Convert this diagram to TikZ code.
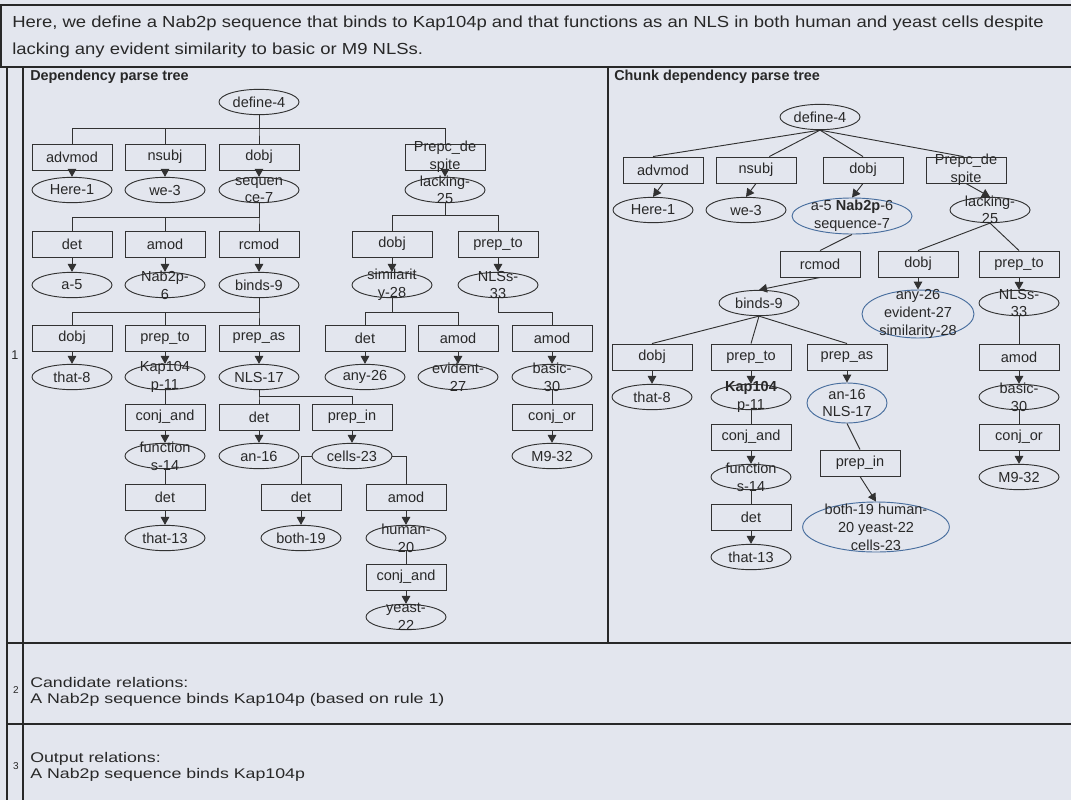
\documentclass[tikz,border=0pt]{standalone}
\usepackage{fontspec}
\setmainfont{Liberation Sans}
\newfontfamily\hdrfam[FakeStretch=1.155]{Liberation Sans}
\newfontfamily\rowfam[FakeStretch=1.27]{Liberation Sans}
\usetikzlibrary{arrows.meta,shapes.geometric}
\definecolor{bg}{RGB}{227,230,238}
\definecolor{ink}{RGB}{40,40,40}
\definecolor{lnk}{RGB}{50,50,50}
\definecolor{blu}{RGB}{72,110,158}
\newcommand\tfont{\fontsize{10.9}{13.2}\selectfont}
\newcommand\hfont{\hdrfam\fontsize{12}{14}\selectfont}
\newcommand\rfont{\rowfam\fontsize{10.5}{12}\selectfont}
\begin{document}
\begin{tikzpicture}[x=0.75pt,y=-0.75pt,
  ln/.style={draw=lnk, line width=0.7pt},
  arr/.style={ln, -{Triangle[length=6pt,width=6.5pt]}},
  bx/.style={draw=lnk, line width=0.7pt, rectangle, minimum width=60pt, minimum height=19.5pt, inner sep=0pt, font=\tfont, text=ink},
  el/.style={draw=lnk, line width=0.7pt, ellipse, minimum width=60pt, minimum height=19pt, inner sep=0pt, font=\tfont, text=ink},
  bel/.style={el, draw=blu},
  two/.style={align=center, font=\tfont, text=ink, inner sep=0pt},
  frame/.style={draw=ink, line width=1.1pt},
  ttl/.style={anchor=west, inner sep=0pt, font=\bfseries\fontsize{10.8}{13}\selectfont, text=ink},
  txt/.style={anchor=base west, inner sep=0pt, text=ink},
]
\fill[bg] (0,0) rectangle (1071,800);
\useasboundingbox (0,0) rectangle (1071,800);
% frame
\draw[frame] (0,5) -- (1071,5);
\draw[frame] (1,5) -- (1,67);
\draw[frame] (0,67) -- (1071,67);
\draw[frame] (7,67) -- (7,800);
\draw[frame] (23,67) -- (23,800);
\draw[frame] (608,67) -- (608,643);
\draw[frame] (7,643) -- (1071,643);
\draw[frame] (7,724) -- (1071,724);
% header
\node[txt, font=\hfont] (h1) at (12,27) {Here, we define a Nab2p sequence that binds to Kap104p and that functions as an NLS in both human and yeast cells despite};
\node[txt, font=\hfont] (h2) at (12,54) {lacking any evident similarity to basic or M9 NLSs.};
% row numbers
\node[inner sep=0pt, font=\fontsize{9.5}{10}\selectfont, text=ink] (n1) at (15,355) {1};
\node[inner sep=0pt, font=\fontsize{7.5}{8}\selectfont, text=ink] (n2) at (16,690) {2};
\node[inner sep=0pt, font=\fontsize{7.5}{8}\selectfont, text=ink] (n3) at (16,766) {3};
% rows 2 and 3
\node[txt, font=\rfont] (c1) at (30,687) {Candidate relations:};
\node[txt, font=\rfont] (c2) at (30,703) {A Nab2p sequence binds Kap104p (based on rule 1)};
\node[txt, font=\rfont] (o1) at (30,762) {Output relations:};
\node[txt, font=\rfont] (o2) at (30,778) {A Nab2p sequence binds Kap104p};
% titles
\node[ttl] (Ltitle) at (30,77) {Dependency parse tree};
\node[ttl] (Rtitle) at (614,77) {Chunk dependency parse tree};

%%%%%%%%%%%%%% LEFT TREE
\coordinate (Lb0) at (0,128);
\coordinate (Lb1) at (0,217);
\coordinate (Lb1b) at (0,215);
\coordinate (Lb2) at (0,312);
\coordinate (Lb3) at (0,396);
\node[el] (Ldef) at (259,102) {define-4};
\node[bx] (Ladv) at (72,157) {advmod};
\node[bx] (Lnsu) at (165,157) {nsubj};
\node[bx] (Ldob) at (259,157) {dobj};
\node[bx] (Lpre) at (445,157) {};
\node[two] (LpreT) at (Lpre) {Prepc\_de\\spite};
\node[el] (Lher) at (72,190) {Here-1};
\node[el] (Lwe) at (165,190) {we-3};
\node[el] (Lseq) at (259,190) {};
\node[two] (LseqT) at (Lseq) {sequen\\ce-7};
\node[el] (Llac) at (445,190) {};
\node[two] (LlacT) at (Llac) {lacking-\\25};
% level 2
\node[bx] (Ldet1) at (72,244) {det};
\node[bx] (Lamo1) at (165,244) {amod};
\node[bx] (Lrcm) at (259,244) {rcmod};
\node[bx] (Ldob2) at (392,244) {dobj};
\node[bx] (Lpto1) at (498,244) {prep\_to};
\node[el] (La5) at (72,285) {a-5};
\node[el] (Lnab) at (165,285) {};
\node[two] (LnabT) at (Lnab) {Nab2p-\\6};
\node[el] (Lbin) at (259,285) {binds-9};
\node[el] (Lsim) at (392,285) {};
\node[two] (LsimT) at (Lsim) {similarit\\y-28};
\node[el] (Lnls) at (498,285) {};
\node[two] (LnlsT) at (Lnls) {NLSs-\\33};
% level 3
\node[bx] (Ldob3) at (72,338) {dobj};
\node[bx] (Lpto2) at (165,338) {prep\_to};
\node[bx] (Lpas) at (259,338) {prep\_as};
\node[bx] (Ldet2) at (365,338) {det};
\node[bx] (Lamo2) at (458,338) {amod};
\node[bx] (Lamo3) at (552,338) {amod};
\node[el] (Lth8) at (72,377) {that-8};
\node[el] (Lkap) at (165,377) {};
\node[two] (LkapT) at (Lkap) {Kap104\\p-11};
\node[el] (Lns17) at (259,377) {NLS-17};
\node[el] (Lany) at (365,377) {any-26};
\node[el] (Levi) at (458,377) {};
\node[two] (LeviT) at (Levi) {evident-\\27};
\node[el] (Lbas) at (552,377) {};
\node[two] (LbasT) at (Lbas) {basic-\\30};
% level 4
\node[bx] (Lcj1) at (165,417) {conj\_and};
\node[bx] (Ldet3) at (259,417) {det};
\node[bx] (Lpin) at (352,417) {prep\_in};
\node[bx] (Lcor) at (552,417) {conj\_or};
\node[el] (Lfun) at (165,456) {};
\node[two] (LfunT) at (Lfun) {function\\s-14};
\node[el] (Lan) at (259,456) {an-16};
\node[el] (Lcel) at (352,456) {cells-23};
\node[el] (Lm9) at (552,456) {M9-32};
% level 5
\node[bx] (Ldet4) at (165,497) {det};
\node[bx] (Ldet5) at (301,497) {det};
\node[bx] (Lamo4) at (406,497) {amod};
\node[el] (Lth13) at (165,538) {that-13};
\node[el] (Lbot) at (301,538) {both-19};
\node[el] (Lhum) at (406,538) {};
\node[two] (LhumT) at (Lhum) {human-\\20};
\node[bx] (Lcj2) at (406,577) {conj\_and};
\node[el] (Lyea) at (406,617) {};
\node[two] (LyeaT) at (Lyea) {yeast-\\22};

% left connectors
\foreach \c in {Ladv,Lnsu,Ldob,Lpre}{\draw[ln] (Ldef.south) -- (Ldef.south |- Lb0) -| (\c.north);}
\foreach \c in {Ldet1,Lamo1,Lrcm}{\draw[ln] (Lseq.south) -- (Lseq.south |- Lb1) -| (\c.north);}
\foreach \c in {Ldob2,Lpto1}{\draw[ln] (Llac.south) -- (Llac.south |- Lb1b) -| (\c.north);}
\foreach \c in {Ldob3,Lpto2,Lpas}{\draw[ln] (Lbin.south) -- (Lbin.south |- Lb2) -| (\c.north);}
\foreach \c in {Ldet2,Lamo2}{\draw[ln] (Lsim.south) -- (Lsim.south |- Lb2) -| (\c.north);}
\draw[ln] (Lnls.south) -- (Lnls.south |- Lb2) -| (Lamo3.north);
\foreach \c in {Ldet3,Lpin}{\draw[ln] (Lns17.south) -- (Lns17.south |- Lb3) -| (\c.north);}
\draw[ln] (Lkap.south) -- (Lcj1.north);
\draw[ln] (Lbas.south) -- (Lcor.north);
\draw[ln] (Lfun.south) -- (Ldet4.north);
\draw[ln] (Lcel.west) -| (Ldet5.north);
\draw[ln] (Lcel.east) -| (Lamo4.north);
\draw[ln] (Lhum.south) -- (Lcj2.north);
\foreach \a/\b in {Ladv/Lher,Lnsu/Lwe,Ldob/Lseq,Lpre/Llac,Ldet1/La5,Lamo1/Lnab,Lrcm/Lbin,Ldob2/Lsim,Lpto1/Lnls,Ldob3/Lth8,Lpto2/Lkap,Lpas/Lns17,Ldet2/Lany,Lamo2/Levi,Lamo3/Lbas,Lcj1/Lfun,Ldet3/Lan,Lpin/Lcel,Lcor/Lm9,Ldet4/Lth13,Ldet5/Lbot,Lamo4/Lhum,Lcj2/Lyea}{\draw[arr] (\a.south) -- (\b.north);}

%%%%%%%%%%%%%% RIGHT TREE
\node[el] (Rdef) at (820,117) {define-4};
\node[bx] (Radv) at (663,170) {advmod};
\node[bx] (Rnsu) at (756,170) {nsubj};
\node[bx] (Rdob) at (863,170) {dobj};
\node[bx] (Rpre) at (966,170) {};
\node[two] (RpreT) at (Rpre) {Prepc\_de\\spite};
\node[el] (Rher) at (653,210) {Here-1};
\node[el] (Rwe) at (746,210) {we-3};
\node[bel, minimum width=90pt, minimum height=27pt] (Rseq) at (852,216) {};
\node[two] (RseqT) at (Rseq) {a-5 \textbf{Nab2p}-6\\sequence-7};
\node[el] (Rlac) at (990,210) {};
\node[two] (RlacT) at (Rlac) {lacking-\\25};
\node[bx] (Rrcm) at (820,264) {rcmod};
\node[bx] (Rdob2) at (918,264) {dobj};
\node[bx] (Rpto1) at (1019,264) {prep\_to};
\node[el] (Rbin) at (759,303) {binds-9};
\node[bel, minimum width=84pt, minimum height=36pt] (Rany) at (918,314) {};
\node[two, font=\fontsize{10.9}{13.5}\selectfont] (RanyT) at (Rany) {any-26\\evident-27\\similarity-28};
\node[el] (Rnls) at (1019,303) {};
\node[two] (RnlsT) at (Rnls) {NLSs-\\33};
\node[bx] (Rdob3) at (652,357) {dobj};
\node[bx] (Rpto2) at (751,357) {prep\_to};
\node[bx] (Rpas) at (847,357) {prep\_as};
\node[bx] (Ramo) at (1019,357) {amod};
\node[el] (Rth8) at (652,397) {that-8};
\node[el] (Rkap) at (751,397) {};
\node[two] (RkapT) at (Rkap) {\textbf{Kap104}\\p-11};
\node[bel, minimum height=30pt] (Rnls17) at (847,403) {};
\node[two] (Rnls17T) at (Rnls17) {an-16\\NLS-17};
\node[el] (Rbas) at (1019,397) {};
\node[two] (RbasT) at (Rbas) {basic-\\30};
\node[bx] (Rcj1) at (751,437) {conj\_and};
\node[bx] (Rpin) at (860,463) {prep\_in};
\node[bx] (Rcor) at (1019,437) {conj\_or};
\node[el] (Rfun) at (751,477) {};
\node[two] (RfunT) at (Rfun) {function\\s-14};
\node[el] (Rm9) at (1019,477) {M9-32};
\node[bel, minimum width=110pt, minimum height=37.5pt] (Rbig) at (876,527) {};
\node[two, font=\fontsize{10.9}{13.5}\selectfont] (RbigT) at (Rbig) {both-19 human-\\20 yeast-22\\cells-23};
\node[bx] (Rdet) at (751,517) {det};
\node[el] (Rth13) at (751,557) {that-13};

% right connectors
\draw[ln] (Rdef.south) -- ([xshift=-7.5pt]Radv.north);
\draw[ln] (Rdef.south) -- ([xshift=10pt]Rnsu.north);
\draw[ln] (Rdef.south) -- (Rdob.north);
\draw[ln] (Rdef.south) -- ([xshift=-2pt]Rpre.north);
\draw[ln] (Rseq.south) -- (Rrcm.north);
\foreach \c in {Rdob2,Rpto1}{\draw[ln] (Rlac.south) -- (\c.north);}
\foreach \c in {Rdob3,Rpto2,Rpas}{\draw[ln] (Rbin.south) -- (\c.north);}
\draw[ln] (Rnls.south) -- (Ramo.north);
\draw[ln] (Rkap.south) -- (Rcj1.north);
\draw[ln] (Rnls17.south) -- (Rpin.north);
\draw[ln] (Rbas.south) -- (Rcor.north);
\draw[ln] (Rfun.south) -- (Rdet.north);
\foreach \a/\b in {Radv/Rher,Rnsu/Rwe,Rdob/Rseq,Rpre/Rlac,Rrcm/Rbin,Rdob2/Rany,Rpto1/Rnls,Rdob3/Rth8,Rpto2/Rkap,Rpas/Rnls17,Ramo/Rbas,Rcj1/Rfun,Rpin/Rbig,Rcor/Rm9,Rdet/Rth13}{\draw[arr] (\a.south) -- (\b.north);}
\end{tikzpicture}
\end{document}
